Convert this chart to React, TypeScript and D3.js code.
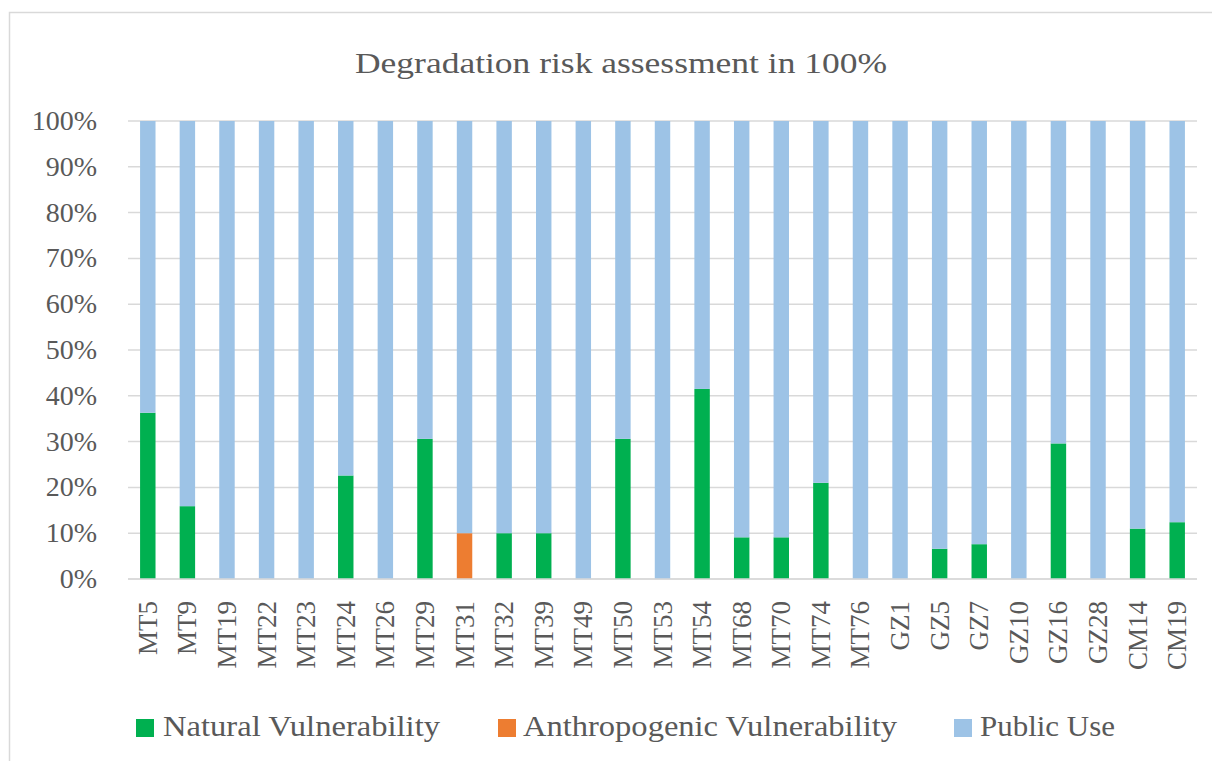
import { useEffect, useRef } from 'react'
import * as d3 from 'd3'

const categories = [
  'MT5', 'MT9', 'MT19', 'MT22', 'MT23', 'MT24', 'MT26', 'MT29', 'MT31', 'MT32', 'MT39', 'MT49', 'MT50',
  'MT53', 'MT54', 'MT68', 'MT70', 'MT74', 'MT76', 'GZ1', 'GZ5', 'GZ7', 'GZ10', 'GZ16', 'GZ28', 'CM14', 'CM19',
]
const naturalVulnerability = [
  36.3, 15.9, 0, 0, 0, 22.6, 0, 30.6, 0, 10, 10, 0, 30.6,
  0, 41.5, 9.1, 9.1, 21.0, 0, 0, 6.6, 7.6, 0, 29.6, 0, 11.0, 12.4,
]
const anthropogenicVulnerability = [
  0, 0, 0, 0, 0, 0, 0, 0, 10, 0, 0, 0, 0,
  0, 0, 0, 0, 0, 0, 0, 0, 0, 0, 0, 0, 0, 0,
]
const publicUse = categories.map((_, i) => 100 - naturalVulnerability[i] - anthropogenicVulnerability[i])
const seriesNames = ['Natural Vulnerability', 'Anthropogenic Vulnerability', 'Public Use']
const seriesColors = ['#00B050', '#ED7D31', '#9DC3E6']
const yTicks = [0, 10, 20, 30, 40, 50, 60, 70, 80, 90, 100]

type Row = { cat: string; nat: number; ant: number; pub: number }

export default function App() {
  const svgRef = useRef<SVGSVGElement>(null)

  useEffect(() => {
    const W = 1220, H = 769
    const margin = { top: 121, right: 23, bottom: 190, left: 128 },
      width = W - margin.left - margin.right,
      height = H - margin.top - margin.bottom
    const font = "'Liberation Serif', serif"
    const txt = '#595959'

    const svg = d3.select(svgRef.current)
    svg.selectAll('*').remove()

    // frame
    svg.append('rect')
      .attr('x', 9.5).attr('y', 12.5).attr('width', W).attr('height', H)
      .attr('fill', '#fff').attr('stroke', '#d9d9d9').attr('stroke-width', 1.5)

    svg.append('text')
      .attr('x', 355).attr('y', 73)
      .attr('textLength', 532).attr('lengthAdjust', 'spacingAndGlyphs')
      .style('font-family', font).style('font-size', '30px').style('fill', txt)
      .text('Degradation risk assessment in 100%')

    const data: Row[] = categories.map((c, i) => ({
      cat: c, nat: naturalVulnerability[i], ant: anthropogenicVulnerability[i], pub: publicUse[i],
    }))

    const x = d3.scaleBand().domain(categories).range([0, width]).paddingInner(0.61).paddingOuter(0.305)
    const y = d3.scaleLinear().domain([0, 100]).range([height, 0])

    const g = svg.append('g').attr('transform', 'translate(' + margin.left + ',' + margin.top + ')')

    g.selectAll('line.grid')
      .data(yTicks)
      .join('line')
      .attr('class', 'grid')
      .attr('x1', 0).attr('x2', width)
      .attr('y1', (d) => y(d)).attr('y2', (d) => y(d))
      .attr('stroke', '#d9d9d9').attr('stroke-width', 1.5)

    g.selectAll('text.ytick')
      .data(yTicks)
      .join('text')
      .attr('class', 'ytick')
      .attr('x', -31).attr('y', (d) => y(d) + 9)
      .attr('text-anchor', 'end')
      .style('font-family', font).style('font-size', '28px').style('fill', txt)
      .text((d) => d + '%')

    const stack = d3.stack<Row>().keys(['nat', 'ant', 'pub'])
    const layers = stack(data)

    g.selectAll('g.layer')
      .data(layers)
      .join('g')
      .attr('class', 'layer')
      .attr('fill', (_, i) => seriesColors[i])
      .selectAll('rect')
      .data((d) => d)
      .join('rect')
      .attr('x', (d) => x(d.data.cat) as number)
      .attr('width', x.bandwidth())
      .attr('y', (d) => y(d[1]))
      .attr('height', (d) => y(d[0]) - y(d[1]))

    // bottom axis line on top
    g.append('line')
      .attr('x1', 0).attr('x2', width).attr('y1', height).attr('y2', height)
      .attr('stroke', '#d9d9d9').attr('stroke-width', 1.5)

    g.selectAll('text.xtick')
      .data(categories)
      .join('text')
      .attr('class', 'xtick')
      .attr('transform', (d) => 'translate(' + ((x(d) as number) + x.bandwidth() / 2 + 9) + ',' + (height + 22) + ') rotate(-90)')
      .attr('text-anchor', 'end')
      .style('font-family', font).style('font-size', '27px').style('fill', txt)
      .text((d) => d)

    // legend
    const legendX = [136, 498, 954]
    const legendTextX = [27, 25, 26]
    const legendLen = [277, 374, 135]
    const lg = svg.selectAll('g.legend')
      .data(seriesNames)
      .join('g')
      .attr('class', 'legend')
      .attr('transform', (_, i) => 'translate(' + legendX[i] + ',719)')
    lg.append('rect').attr('width', 18).attr('height', 18).attr('fill', (_, i) => seriesColors[i])
    lg.append('text')
      .attr('x', (_, i) => legendTextX[i]).attr('y', 17)
      .attr('textLength', (_, i) => legendLen[i]).attr('lengthAdjust', 'spacingAndGlyphs')
      .style('font-family', font).style('font-size', '29px').style('fill', txt)
      .text((d) => d)
  }, [])

  return (
    <div style={{ margin: -8 }}>
      <svg ref={svgRef} width={1220} height={769} style={{ display: 'block' }} />
    </div>
  )
}
